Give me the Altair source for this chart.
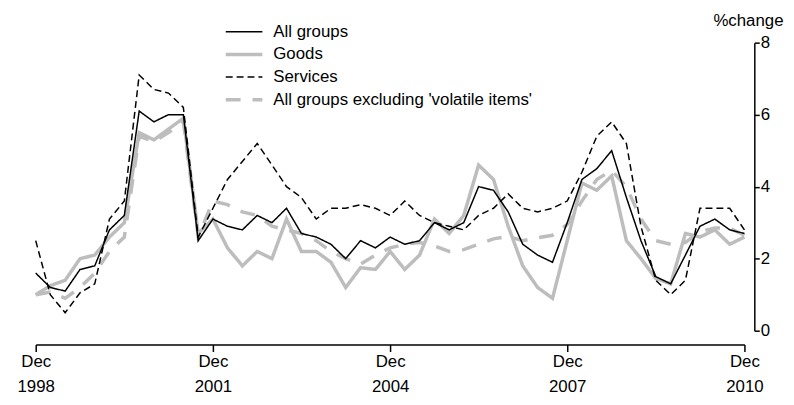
import altair as alt
import pandas as pd

# Quarterly, Dec 1998 .. Dec 2010 (annual % change)
dates = [d.strftime("%Y-%m-%d") for d in pd.date_range("1998-12-01", periods=49, freq="3MS")]

series_names = ["All groups", "Goods", "Services", "All groups excluding 'volatile items'"]

all_groups = [1.6, 1.2, 1.1, 1.7, 1.8, 2.8, 3.2, 6.1, 5.8, 6.0, 6.0, 2.5,
              3.1, 2.9, 2.8, 3.2, 3.0, 3.4, 2.7, 2.6, 2.4, 2.0, 2.5, 2.3,
              2.6, 2.4, 2.5, 3.0, 2.8, 3.0, 4.0, 3.9, 3.3, 2.4, 2.1, 1.9,
              3.0, 4.2, 4.5, 5.0, 3.7, 2.5, 1.5, 1.3, 2.1, 2.9, 3.1, 2.8, 2.7]

goods = [1.0, 1.25, 1.4, 2.0, 2.1, 2.6, 3.0, 5.5, 5.3, 5.6, 5.9, 2.7,
         3.1, 2.3, 1.8, 2.2, 2.0, 3.1, 2.2, 2.2, 1.9, 1.2, 1.75, 1.7,
         2.2, 1.7, 2.1, 3.1, 2.7, 3.2, 4.6, 4.2, 2.9, 1.8, 1.2, 0.9,
         2.5, 4.1, 3.9, 4.3, 2.5, 2.0, 1.45, 1.3, 2.7, 2.6, 2.8, 2.4, 2.6]

services = [2.5, 1.0, 0.5, 1.05, 1.3, 3.1, 3.6, 7.1, 6.7, 6.6, 6.2, 2.6,
            3.4, 4.2, 4.7, 5.2, 4.6, 4.0, 3.7, 3.1, 3.4, 3.4, 3.5, 3.4,
            3.2, 3.6, 3.2, 3.0, 2.9, 2.8, 3.2, 3.4, 3.8, 3.4, 3.3, 3.4,
            3.6, 4.4, 5.4, 5.8, 5.2, 2.9, 1.4, 1.0, 1.4, 3.4, 3.4, 3.4, 2.8]

excl_volatile = [1.0, 1.07, 0.9, 1.2, 1.6, 2.2, 2.6, 5.4, 5.25, 5.5, 5.8, 2.6,
                 3.6, 3.5, 3.3, 3.2, 2.9, 2.8, 2.7, 2.5, 2.2, 2.0, 1.85, 2.1,
                 2.3, 2.4, 2.45, 2.35, 2.2, 2.25, 2.4, 2.55, 2.62, 2.5, 2.58, 2.65,
                 2.95, 3.6, 4.2, 4.45, 4.0, 3.1, 2.5, 2.4, 2.45, 2.75, 2.85, 2.85, 2.65]

tick_years = [1998, 2001, 2004, 2007, 2010]

colors = ["#000000", "#bdbdbd", "#000000", "#bdbdbd"]
dashes = [[1, 0], [1, 0], [7, 4], [15, 12]]
widths = [1.5, 3.5, 1.5, 3.5]

FONT = "Liberation Sans, Arial, sans-serif"

rows = []
for name, vals in zip(series_names, [all_groups, goods, services, excl_volatile]):
    for d, v in zip(dates, vals):
        rows.append({"date": d, "series": name, "value": v})
df = pd.DataFrame(rows)

leg = alt.Legend(
    title=None, orient="none", legendX=190, legendY=-19,
    symbolType="stroke", symbolSize=1369, clipHeight=16, rowPadding=5.9,
    labelFontSize=17, labelFont=FONT, labelColor="#000000", labelOffset=9,
    labelLimit=0, padding=0,
)

x_enc = alt.X(
    "date:T",
    scale=alt.Scale(
        type="utc", nice=False,
        domain=[alt.DateTime(year=1998, month=12, date=1, utc=True),
                alt.DateTime(year=2010, month=12, date=1, utc=True)],
    ),
    axis=alt.Axis(
        title=None, offset=14, tickSize=7, labelPadding=2,
        values=[alt.DateTime(year=y, month=12, date=1, utc=True) for y in tick_years],
        labelExpr="['Dec', utcFormat(datum.value, '%Y')]",
        labelLineHeight=25, labelFontSize=17, labelFont=FONT, labelColor="#000000",
        domainColor="#000000", tickColor="#000000", domainWidth=1.5, tickWidth=1.5,
        grid=False, labelFlush=False, labelOverlap=False,
    ),
)

y_enc = alt.Y(
    "value:Q",
    scale=alt.Scale(domain=[0, 8], nice=False),
    axis=alt.Axis(
        orient="right", offset=10, values=[0, 2, 4, 6, 8], tickSize=5, labelPadding=1,
        labelFontSize=17, labelFont=FONT, labelColor="#000000",
        domainColor="#000000", tickColor="#000000", domainWidth=1.5, tickWidth=1.5,
        grid=False, title="%change", titleAngle=0, titleFont=FONT, titleFontSize=17,
        titleFontWeight="normal", titleColor="#000000", titleAlign="right",
        titleBaseline="alphabetic", titleX=29, titleY=-17, titleLimit=0,
    ),
)

color_enc = alt.Color("series:N", scale=alt.Scale(domain=series_names, range=colors), legend=leg)
dash_enc = alt.StrokeDash("series:N", scale=alt.Scale(domain=series_names, range=dashes), legend=leg)
width_enc = alt.StrokeWidth("series:N", scale=alt.Scale(type="ordinal", domain=series_names, range=widths), legend=leg)

base = alt.Chart(df).mark_line(strokeJoin="miter").encode(
    x=x_enc, y=y_enc, color=color_enc, strokeDash=dash_enc, strokeWidth=width_enc,
)

gray = base.transform_filter(
    alt.FieldOneOfPredicate(field="series", oneOf=[series_names[1], series_names[3]])
)
black = base.transform_filter(
    alt.FieldOneOfPredicate(field="series", oneOf=[series_names[0], series_names[2]])
)

chart = alt.layer(gray, black).properties(
    width=716, height=291,
    background="white",
    autosize=alt.AutoSizeParams(type="none"),
    padding={"left": 28, "top": 33, "right": 42, "bottom": 65},
).configure_view(stroke=None)

chart.save("out.html", embed_options={"renderer": "svg", "actions": False})
